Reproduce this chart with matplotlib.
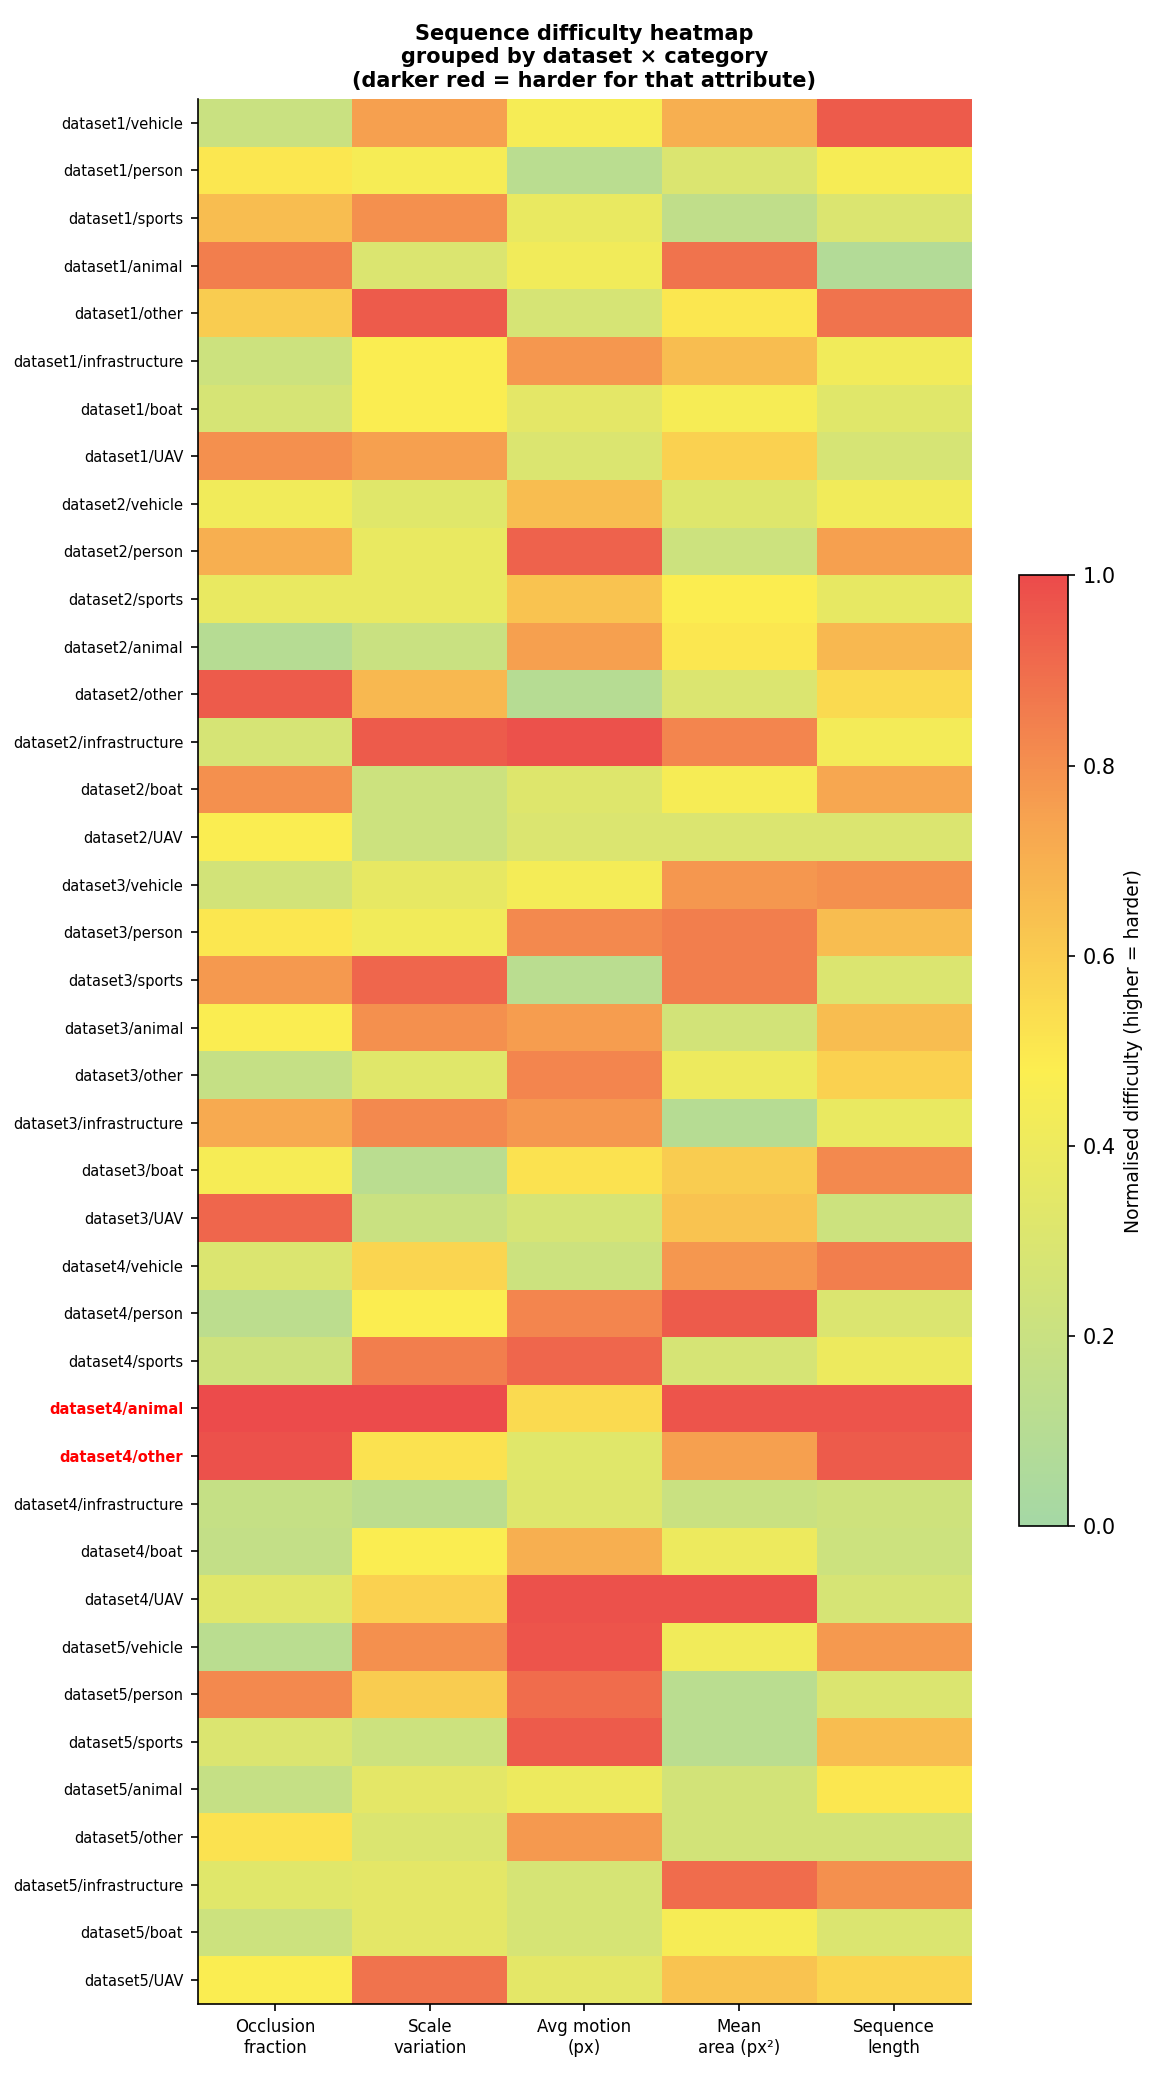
import numpy as np
import matplotlib.pyplot as plt
from matplotlib.colors import LinearSegmentedColormap

datasets = ["dataset1", "dataset2", "dataset3", "dataset4", "dataset5"]
categories = ["vehicle", "person", "sports", "animal", "other", "infrastructure", "boat", "UAV"]
row_labels = [f"{d}/{c}" for d in datasets for c in categories]
col_labels = ["Occlusion\nfraction", "Scale\nvariation", "Avg motion\n(px)", "Mean\narea (px²)", "Sequence\nlength"]
highlight = ["dataset4/animal", "dataset4/other"]

values = np.array([
    [0.20, 0.75, 0.45, 0.70, 0.95],
    [0.50, 0.45, 0.12, 0.30, 0.45],
    [0.65, 0.80, 0.38, 0.15, 0.30],
    [0.85, 0.30, 0.42, 0.88, 0.08],
    [0.60, 0.95, 0.27, 0.50, 0.88],
    [0.22, 0.47, 0.78, 0.65, 0.42],
    [0.27, 0.47, 0.35, 0.45, 0.33],
    [0.80, 0.75, 0.30, 0.58, 0.27],
    [0.42, 0.33, 0.65, 0.32, 0.42],
    [0.70, 0.38, 0.93, 0.22, 0.75],
    [0.38, 0.38, 0.63, 0.48, 0.37],
    [0.10, 0.20, 0.75, 0.50, 0.67],
    [0.95, 0.67, 0.10, 0.30, 0.55],
    [0.27, 0.95, 0.98, 0.83, 0.43],
    [0.80, 0.22, 0.32, 0.45, 0.73],
    [0.47, 0.22, 0.30, 0.30, 0.30],
    [0.25, 0.37, 0.44, 0.78, 0.80],
    [0.50, 0.42, 0.82, 0.85, 0.65],
    [0.77, 0.92, 0.12, 0.85, 0.30],
    [0.47, 0.80, 0.76, 0.25, 0.65],
    [0.18, 0.33, 0.83, 0.40, 0.58],
    [0.72, 0.82, 0.78, 0.10, 0.38],
    [0.45, 0.12, 0.52, 0.60, 0.82],
    [0.92, 0.20, 0.27, 0.63, 0.22],
    [0.30, 0.57, 0.22, 0.78, 0.85],
    [0.13, 0.48, 0.83, 0.95, 0.30],
    [0.23, 0.85, 0.92, 0.27, 0.40],
    [1.00, 1.00, 0.55, 0.97, 0.97],
    [0.98, 0.52, 0.33, 0.75, 0.95],
    [0.18, 0.13, 0.32, 0.20, 0.23],
    [0.17, 0.47, 0.70, 0.40, 0.22],
    [0.33, 0.58, 0.98, 0.98, 0.27],
    [0.12, 0.80, 0.97, 0.42, 0.77],
    [0.82, 0.60, 0.90, 0.12, 0.30],
    [0.30, 0.22, 0.95, 0.12, 0.65],
    [0.18, 0.35, 0.40, 0.25, 0.50],
    [0.52, 0.30, 0.77, 0.25, 0.25],
    [0.33, 0.35, 0.27, 0.90, 0.80],
    [0.22, 0.35, 0.27, 0.45, 0.30],
    [0.47, 0.88, 0.35, 0.63, 0.57],
])

# green -> yellow -> orange -> red
cmap = LinearSegmentedColormap.from_list(
    "diff", [(0.0, "#a5d8a5"), (0.48, "#fcee50"), (0.74, "#f7a550"), (1.0, "#ec4b4b")])

fig = plt.figure(figsize=(1163 / 150, 2085 / 150), dpi=150)
ax = fig.add_axes([0.170, 1 - 0.961, 0.665, 0.961 - 0.0475])
cax = fig.add_axes([0.876, 0.268, 0.042, 0.456])

im = ax.imshow(values, cmap=cmap, vmin=0, vmax=1, aspect="auto", interpolation="nearest")
ax.set_yticks(range(len(row_labels)))
ax.set_yticklabels(row_labels, fontsize=7)
ax.set_xticks(range(len(col_labels)))
ax.set_xticklabels(col_labels, fontsize=8)
for lab in ax.get_yticklabels():
    if lab.get_text() in highlight:
        lab.set_color("red")
        lab.set_fontweight("bold")
ax.spines["top"].set_visible(False)
ax.spines["right"].set_visible(False)
ax.set_title("Sequence difficulty heatmap\ngrouped by dataset × category\n(darker red = harder for that attribute)",
             fontsize=10, fontweight="bold")

cb = fig.colorbar(im, cax=cax)
cb.set_label("Normalised difficulty (higher = harder)", fontsize=9)

fig.savefig("out.png", dpi=150)
